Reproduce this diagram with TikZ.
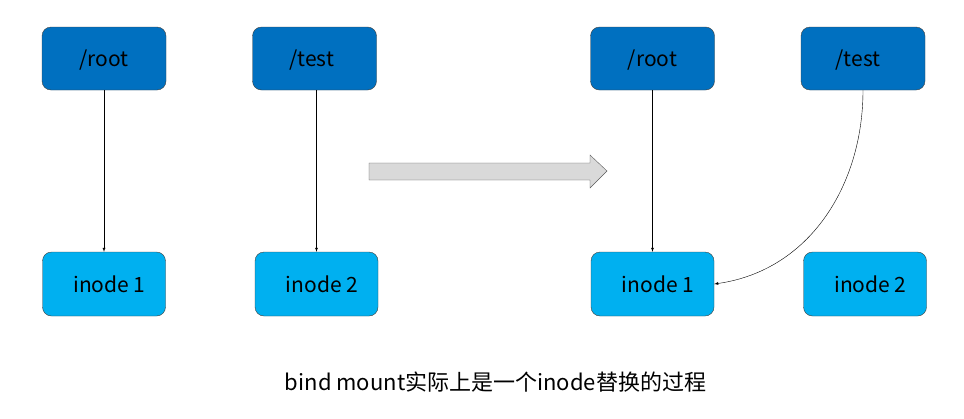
\documentclass[tikz,border=0pt]{standalone}
\usepackage{fontspec}
\setmainfont{Noto Sans CJK SC}
\usepackage{tikz}
\definecolor{dirblue}{HTML}{0070C0}
\definecolor{inodeblue}{HTML}{00B0F0}
\definecolor{edgegray}{HTML}{404040}
\tikzstyle{dirbox} = [draw=edgegray, fill=dirblue, thin,
    rectangle, rounded corners=9pt, minimum width=124pt, minimum height=63pt,
    text height=16pt, text depth=0pt,
    font=\fontsize{21}{24}\selectfont]
\tikzstyle{inodebox} = [dirbox, fill=inodeblue, minimum width=123pt, minimum height=64pt]
\tikzstyle{link} = [-latex, thin, black]

\begin{document}
\begin{tikzpicture}[x=1pt,y=-1pt]
\useasboundingbox (0,0) rectangle (964,418);
% before
\node [dirbox] (rootA) at (104,58.5) {/root};
\node [dirbox] (testA) at (314.5,58.5) {\hspace{-6pt}/test};
\node [inodebox] (inodeA1) at (104,284) {\hspace{11pt}inode 1};
\node [inodebox] (inodeA2) at (316.5,284) {\hspace{11pt}inode 2};
\draw [link] (rootA) -- (inodeA1);
\draw [link] (testA.south -| inodeA2) -- (inodeA2);
% after
\node [dirbox] (rootB) at (652.5,58.5) {/root};
\node [dirbox] (testB) at (863,58.5) {\hspace{-10pt}/test};
\node [inodebox] (inodeB1) at (652.5,284) {\hspace{11pt}inode 1};
\node [inodebox] (inodeB2) at (865,284) {\hspace{11pt}inode 2};
\draw [link] (rootB) -- (inodeB1);
\draw [link] (testB.south) to[out=-90, in=8] (inodeB1.east);
% big arrow
\draw [draw=black!65, fill=black!15]
    (369,163) -- (590,163) -- (590,155) -- (607,171) -- (590,188)
    -- (590,180) -- (369,180) -- cycle;
\node [font=\fontsize{22}{26}\selectfont] (caption) at (495.5,382)
    {bind mount实际上是一个inode替换的过程};
\end{tikzpicture}
\end{document}
